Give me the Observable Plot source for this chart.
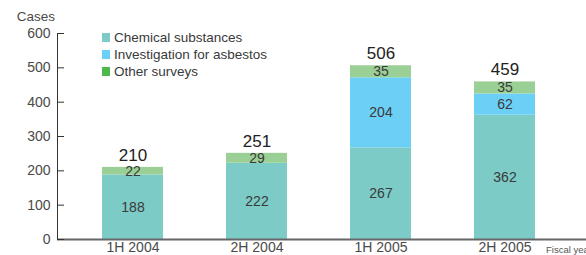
<!DOCTYPE html>
<html>
<head>
<meta charset="utf-8">
<script src="https://cdn.jsdelivr.net/npm/d3@7"></script>
<script src="https://cdn.jsdelivr.net/npm/@observablehq/plot@0.6"></script>
<style>
  html, body { margin: 0; padding: 0; background: #fff; }
  #wrap { position: relative; width: 586px; height: 255px; overflow: hidden; font-family: "Liberation Sans", Arial, sans-serif; color: #333; }
  #wrap svg { position: absolute; left: 0; top: 0; }
  .lbl { position: absolute; white-space: nowrap; line-height: 1; }
  .leg { position: absolute; left: 102px; display: flex; align-items: center; font-size: 13.5px; color: #3a3a3a; white-space: nowrap; }
  .sw { width: 8px; height: 9px; margin-right: 4px; }
</style>
</head>
<body>
<div id="wrap"></div>
<script>
const periods = ["1H 2004", "2H 2004", "1H 2005", "2H 2005"];
const seriesNames = ["Chemical substances", "Investigation for asbestos", "Other surveys"];
const chemical = [188, 222, 267, 362];
const asbestos = [0, 0, 204, 62];
const other = [22, 29, 35, 35];
const totals = [210, 251, 506, 459];
const yTicks = [0, 100, 200, 300, 400, 500, 600];
const barColors = ["#7ccbc6", "#6ccff6", "#9ad095"];
const legendColors = ["#7ccbc6", "#6ccff6", "#4db84e"];

const seriesValues = [chemical, asbestos, other];
const rows = [];
periods.forEach((p, i) => {
  seriesValues.forEach((vals, s) => {
    if (vals[i] > 0) rows.push({period: p, series: seriesNames[s], value: vals[i]});
  });
});
const totalRows = periods.map((p, i) => ({period: p, total: totals[i]}));

const chart = Plot.plot({
  width: 586,
  height: 255,
  marginLeft: 57,
  marginRight: 0,
  marginTop: 33,
  marginBottom: 16,
  style: {fontFamily: "'Liberation Sans', Arial, sans-serif", background: "transparent"},
  x: {domain: periods, range: [39, 598], padding: 0.508},
  y: {domain: [0, 600]},
  color: {domain: seriesNames, range: barColors},
  marks: [
    Plot.barY(rows, Plot.stackY({x: "period", y: "value", z: "series", fill: "series", order: seriesNames})),
    Plot.text(rows, Plot.stackY({x: "period", y: "value", z: "series", text: "value", order: seriesNames, fontSize: 14, fill: "#3a3a3a"})),
    Plot.text(totalRows, {x: "period", y: "total", text: "total", dy: -12, fontSize: 17, fill: "#222"}),
    Plot.ruleY([0], {stroke: "#666", strokeWidth: 2}),
    Plot.frame({anchor: "left", stroke: "#333"}),
    Plot.axisY({ticks: yTicks, tickSize: 0, tickPadding: 7, fontSize: 14, fill: "#4a4a4a", label: null}),
    Plot.axisY({ticks: yTicks, tickSize: 7, dx: 7, tickFormat: () => "", stroke: "#333", label: null}),
    Plot.axisX({tickSize: 0, tickPadding: 3, fontSize: 14, fill: "#4a4a4a", label: null})
  ]
});

const wrap = document.getElementById("wrap");
wrap.appendChild(chart);

const cases = document.createElement("div");
cases.className = "lbl";
cases.textContent = "Cases";
cases.style.cssText = "right:531px; top:10px; font-size:13.5px; color:#4a4a4a;";
wrap.appendChild(cases);

const fy = document.createElement("div");
fy.className = "lbl";
fy.textContent = "Fiscal year";
fy.style.cssText = "left:546px; top:245px; font-size:9.5px; color:#555;";
wrap.appendChild(fy);

seriesNames.forEach((name, i) => {
  const d = document.createElement("div");
  d.className = "leg";
  d.style.top = (30 + i * 17) + "px";
  const sw = document.createElement("span");
  sw.className = "sw";
  sw.style.background = legendColors[i];
  const t = document.createElement("span");
  t.textContent = name;
  d.appendChild(sw);
  d.appendChild(t);
  wrap.appendChild(d);
});
</script>
</body>
</html>
